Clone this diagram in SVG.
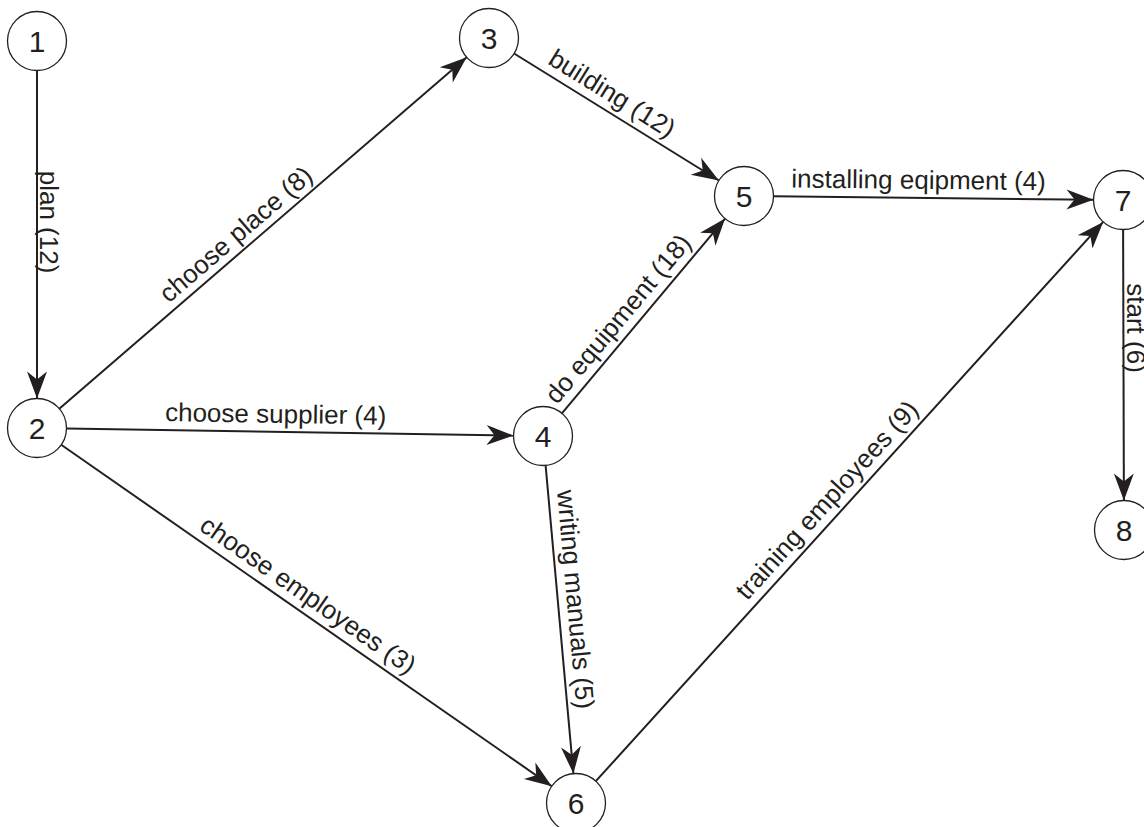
<svg xmlns="http://www.w3.org/2000/svg" width="1144" height="827" viewBox="0 0 1144 827">
<style>
.node circle{fill:#fff;stroke:#231f20;stroke-width:1.3}
.node text{font-family:"Liberation Sans",Arial,sans-serif;font-size:30px;fill:#231f20;text-anchor:middle}
.edge line{stroke:#231f20;stroke-width:2;fill:none;marker-end:url(#arr)}
.lbl{font-family:"Liberation Sans",Arial,sans-serif;font-size:26px;fill:#231f20;text-anchor:middle}
</style>
<defs>
<marker id="arr" markerUnits="userSpaceOnUse" viewBox="-30 -12 32 24" markerWidth="32" markerHeight="24" refX="0" refY="0" orient="auto">
<path d="M0,0 L-27,-10 L-19,0 L-27,10 Z" fill="#231f20"/>
</marker>
</defs>
<rect width="1144" height="827" fill="#fff"/>
<g id="connectors">
<g class="edge" id="e1-2"><line x1="37" y1="70.5" x2="37" y2="398.5"/><text class="lbl" transform="translate(40,222) rotate(90)">plan (12)</text></g>
<g class="edge" id="e2-3"><line x1="59.3" y1="408.7" x2="466.7" y2="57.3"/><text class="lbl" transform="translate(241.5,241) rotate(-40.8)">choose place (8)</text></g>
<g class="edge" id="e2-4"><line x1="66.5" y1="428.5" x2="513.5" y2="435.5"/><text class="lbl" transform="translate(275.5,422.8) rotate(0.9)">choose supplier (4)</text></g>
<g class="edge" id="e2-6"><line x1="61.2" y1="444.8" x2="551.8" y2="786.2"/><text class="lbl" transform="translate(303.1,602.2) rotate(34.83)">choose employees (3)</text></g>
<g class="edge" id="e3-5"><line x1="514.1" y1="53.5" x2="718.9" y2="180.5"/><text class="lbl" transform="translate(607.6,100.9) rotate(31.78)">building (12)</text></g>
<g class="edge" id="e4-5"><line x1="561.9" y1="413.4" x2="725.1" y2="218.6"/><text class="lbl" transform="translate(624.7,324.4) rotate(-50.05)">do equipment (18)</text></g>
<g class="edge" id="e4-6"><line x1="545.6" y1="465.4" x2="573.4" y2="773.6"/><text class="lbl" transform="translate(566.8,600.2) rotate(84.86)">writing manuals (5)</text></g>
<g class="edge" id="e5-7"><line x1="773.5" y1="196.3" x2="1093.5" y2="199.7"/><text class="lbl" transform="translate(918.5,188.8) rotate(0.6)">installing eqipment (4)</text></g>
<g class="edge" id="e6-7"><line x1="595.8" y1="781.2" x2="1103.2" y2="221.9"/><text class="lbl" transform="translate(833.4,505.9) rotate(-47.79)">training employees (9)</text></g>
<g class="edge" id="e7-8"><line x1="1123.1" y1="229.5" x2="1123.9" y2="500.5"/><text class="lbl" transform="translate(1127,328) rotate(90)">start (6)</text></g>
</g>
<g class="node" id="n1"><circle cx="37" cy="41" r="29.5"/><text x="37" y="52">1</text></g>
<g class="node" id="n2"><circle cx="37" cy="428" r="29.5"/><text x="37" y="439">2</text></g>
<g class="node" id="n3"><circle cx="489" cy="38" r="29.5"/><text x="489" y="49">3</text></g>
<g class="node" id="n4"><circle cx="543" cy="436" r="29.5"/><text x="543" y="447">4</text></g>
<g class="node" id="n5"><circle cx="744" cy="196" r="29.5"/><text x="744" y="207">5</text></g>
<g class="node" id="n6"><circle cx="576" cy="803" r="29.5"/><text x="576" y="814">6</text></g>
<g class="node" id="n7"><circle cx="1123" cy="200" r="29.5"/><text x="1123" y="211">7</text></g>
<g class="node" id="n8"><circle cx="1124" cy="530" r="29.5"/><text x="1124" y="541">8</text></g>
</svg>
